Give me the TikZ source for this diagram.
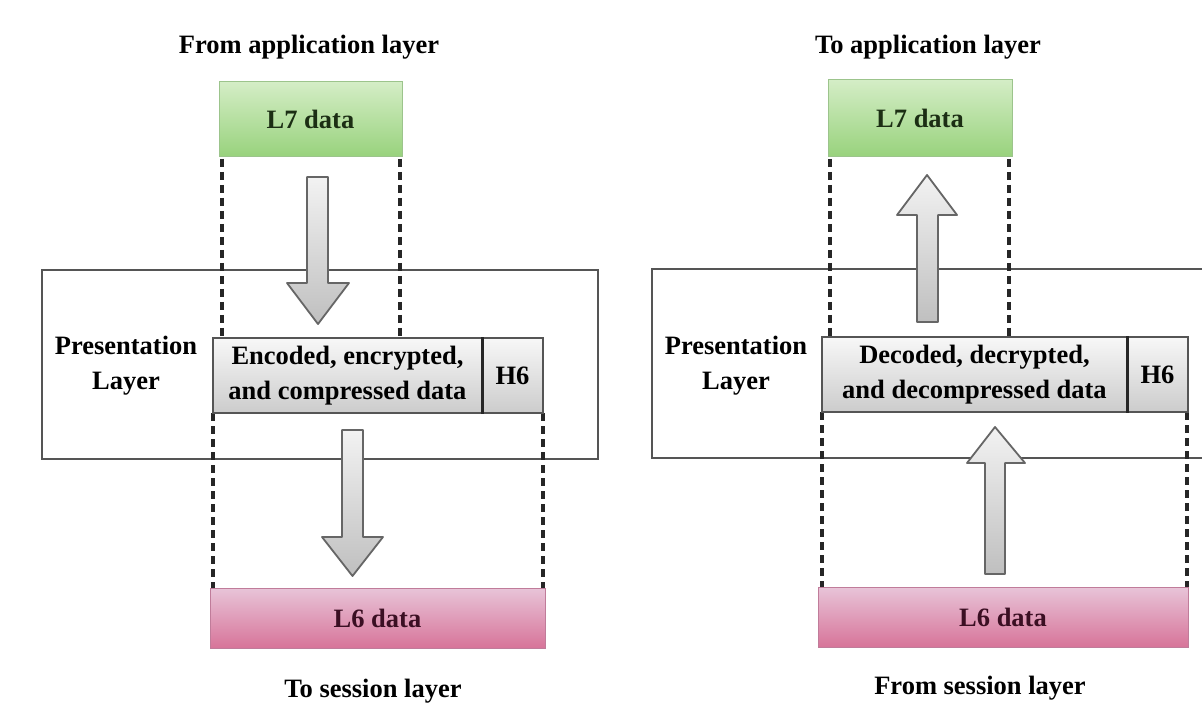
\documentclass[tikz,border=0pt]{standalone}
\usepackage{fontspec}
\setmainfont{Liberation Serif}
\usetikzlibrary{shadings}
\definecolor{framegray}{HTML}{555555}
\definecolor{arrowgray}{HTML}{666666}
\definecolor{greentop}{HTML}{D4EDC6}
\definecolor{greenbot}{HTML}{98D27C}
\definecolor{greenbd}{HTML}{9CC48C}
\definecolor{greentxt}{HTML}{1C2E14}
\definecolor{pinktop}{HTML}{E8C4D8}
\definecolor{pinkbot}{HTML}{D77499}
\definecolor{pinkbd}{HTML}{C07C9A}
\definecolor{pinktxt}{HTML}{3B0F23}
\tikzset{
  lbl/.style={font=\bfseries\fontsize{26.5}{35}\selectfont, align=center, inner sep=0pt},
  layerbox/.style={draw=framegray, line width=1.8pt, inner sep=0pt},
  databox/.style={draw=framegray, line width=1.2pt, top color=gray!6, bottom color=gray!40, inner sep=0pt, lbl},
  greenbox/.style={draw=greenbd, line width=1pt, top color=greentop, bottom color=greenbot, inner sep=0pt, lbl, text=greentxt},
  pinkbox/.style={draw=pinkbd, line width=1pt, top color=pinktop, bottom color=pinkbot, inner sep=0pt, lbl, text=pinktxt},
  dashline/.style={line width=3.2pt, dash pattern=on 8pt off 5pt, black!85},
  blockarrow/.style={draw=arrowgray, line width=1.8pt, line join=round, top color=gray!10, bottom color=gray!50},
  divider/.style={line width=3pt, black!85}
}
\begin{document}
\begin{tikzpicture}[x=1pt,y=-1pt]
\useasboundingbox (0,0) rectangle (1202,727);
\clip (0,0) rectangle (1202,727);
\fill[white] (0,0) rectangle (1202,727);

% ---------- left diagram ----------
\node[lbl] (titleL) at (309,47) {From application layer};
\node[layerbox, minimum width=556pt, minimum height=189pt] (presL) at (320,364.5) {};
\node[lbl] (presLtxt) at (126,366) {Presentation\\Layer};

\draw[dashline] (222,159) -- (222,338);
\draw[dashline] (400,159) -- (400,338);
\draw[dashline] (213,413) -- (213,588);
\draw[dashline] (543,413) -- (543,588);

\draw[blockarrow] (307,177) -- (328,177) -- (328,283) -- (349,283) -- (318,324) -- (287,283) -- (307,283) -- cycle;
\draw[blockarrow] (342,430) -- (363,430) -- (363,537) -- (383,537) -- (352.5,576) -- (322,537) -- (342,537) -- cycle;

\node[greenbox, minimum width=183pt, minimum height=75pt] (l7L) at (310.5,119.5) {L7 data};
\node[databox, minimum width=269pt, minimum height=75pt] (encL) at (347.5,375.5) {Encoded, encrypted,\\and compressed data};
\node[databox, minimum width=61pt, minimum height=75pt] (h6L) at (512.5,375.5) {H6};
\draw[divider] (encL.north east) -- (encL.south east);
\node[pinkbox, minimum width=335pt, minimum height=60pt] (l6L) at (377.5,618) {L6 data};
\node[lbl] (bottomL) at (373,691) {To session layer};

% ---------- right diagram ----------
\node[lbl] (titleR) at (928,47) {To application layer};
\node[layerbox, minimum width=600pt, minimum height=189pt] (presR) at (952,363.5) {};
\node[lbl] (presRtxt) at (736,366) {Presentation\\Layer};

\draw[dashline] (830,159) -- (830,337);
\draw[dashline] (1009,159) -- (1009,337);
\draw[dashline] (822,412) -- (822,587);
\draw[dashline] (1187,412) -- (1187,587);

\draw[blockarrow] (917,322) -- (938,322) -- (938,215) -- (957,215) -- (927,175) -- (897,215) -- (917,215) -- cycle;
\draw[blockarrow] (985,574) -- (1005,574) -- (1005,463) -- (1025,463) -- (995,427) -- (967,463) -- (985,463) -- cycle;

\node[greenbox, minimum width=184pt, minimum height=77pt] (l7R) at (920,118.5) {L7 data};
\node[databox, minimum width=305pt, minimum height=75pt] (decR) at (974.5,374.5) {Decoded, decrypted,\\and decompressed data};
\node[databox, minimum width=61pt, minimum height=75pt] (h6R) at (1157.5,374.5) {H6};
\draw[divider] (decR.north east) -- (decR.south east);
\node[pinkbox, minimum width=370pt, minimum height=60pt] (l6R) at (1003,617) {L6 data};
\node[lbl] (bottomR) at (980,688) {From session layer};
\end{tikzpicture}
\end{document}
